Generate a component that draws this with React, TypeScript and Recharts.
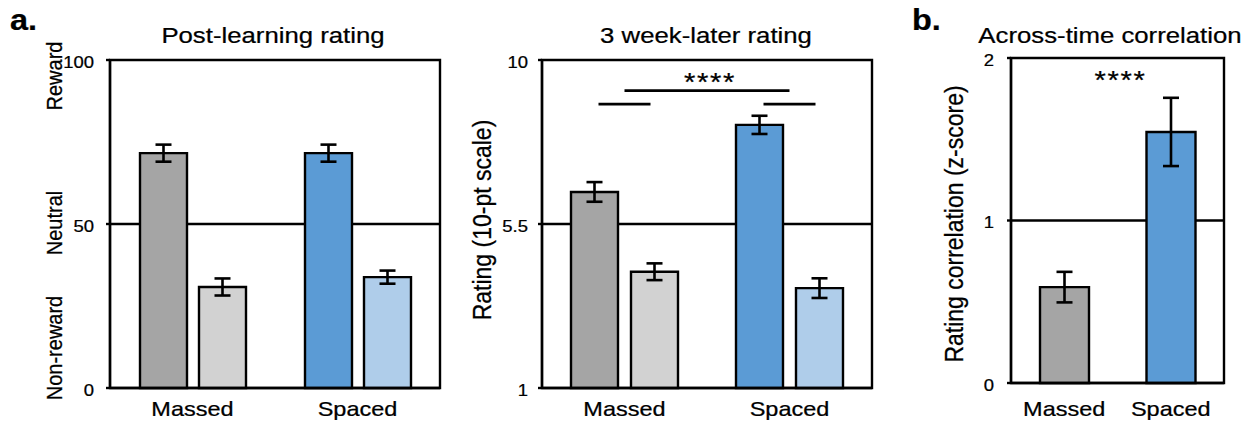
import React from 'react';
import { BarChart, Bar, XAxis, YAxis, ErrorBar, Cell, ReferenceLine, ReferenceArea } from 'recharts';

const FONT = '"Liberation Sans", Arial, Helvetica, sans-serif';
const SX = 1.12; // the source figure is stretched a bit horizontally
const LW = 2.4;

const CATEGORIES = ['Massed', 'Spaced'];

// a. post-learning rating (0-100)
const POST_REWARD = [71.6, 71.6];
const POST_REWARD_ERR = [2.6, 2.6];
const POST_NONREWARD = [30.8, 33.8];
const POST_NONREWARD_ERR = [2.6, 2.0];
const POST_TICKS = [0, 50, 100];

// a. 3 week-later rating (1-10)
const LATER_REWARD = [6.38, 8.22];
const LATER_REWARD_ERR = [0.27, 0.25];
const LATER_NONREWARD = [4.19, 3.74];
const LATER_NONREWARD_ERR = [0.23, 0.27];
const LATER_TICKS = [1, 5.5, 10];
const LATER_SIG_TOP = 9.16;
const LATER_SIG_LOW = 8.79;

// b. across-time correlation (z-score)
const CORR = [0.59, 1.545];
const CORR_ERR = [0.094, 0.21];
const CORR_TICKS = [0, 1, 2];
const CORR_SIG = 1.81;

const REWARD_COLORS = ['#a5a5a5', '#5b9bd5'];
const NONREWARD_COLORS = ['#d2d2d2', '#afcdea'];

const postData = CATEGORIES.map((name, i) => ({
  name,
  reward: POST_REWARD[i],
  rewardErr: POST_REWARD_ERR[i],
  nonReward: POST_NONREWARD[i],
  nonRewardErr: POST_NONREWARD_ERR[i],
}));

const laterData = CATEGORIES.map((name, i) => ({
  name,
  reward: LATER_REWARD[i],
  rewardErr: LATER_REWARD_ERR[i],
  nonReward: LATER_NONREWARD[i],
  nonRewardErr: LATER_NONREWARD_ERR[i],
}));

const corrData = CATEGORIES.map((name, i) => ({ name, value: CORR[i], err: CORR_ERR[i] }));

const SText = ({ x, y, size, anchor = 'middle', weight = 'normal', rotate = 0, spacing = 0, children }: any) => (
  <g transform={`translate(${x},${y}) scale(${SX},1)${rotate ? ` rotate(${rotate})` : ''}`}>
    <text x={0} y={0} textAnchor={anchor} fontSize={size} fontWeight={weight} fontFamily={FONT} fill="#000" stroke="#000" strokeWidth={0.25} letterSpacing={spacing}>
      {children}
    </text>
  </g>
);

const yTick = (dy: number) => (p: any) => (
  <SText x={p.x} y={p.y + dy} size={16.5} anchor="end">{p.payload.value}</SText>
);

const xTick = (dy: number) => (p: any) => (
  <SText x={p.x} y={p.y + dy} size={21}>{p.payload.value}</SText>
);

const Stars = ({ viewBox }: any) => {
  if (!viewBox) return null;
  return (
    <SText x={viewBox.x + viewBox.width / 2 + 3} y={viewBox.y} size={26} spacing={1.5}>****</SText>
  );
};

// short bar-pair line, centred on the category
const ShortLine = (p: any) => (
  <line x1={p.x1 - 26} x2={p.x1 + 26} y1={p.y1} y2={p.y1} stroke="#000" strokeWidth={2.8} />
);

const axisLine = { stroke: '#000', strokeWidth: LW };
const frameProps = { fill: 'none', stroke: '#000', strokeWidth: LW, fillOpacity: 0 };

const cells = (colors: string[]) =>
  CATEGORIES.map((c, i) => <Cell key={c} fill={colors[i]} stroke="#000" strokeWidth={LW} />);

const App = () => {
  return (
    <div style={{ position: 'absolute', left: 0, top: 0, width: 1251, height: 423, background: '#fff' }}>
      {/* Post-learning rating */}
      <div style={{ position: 'absolute', left: 0, top: 0 }}>
        <BarChart width={460} height={423} data={postData} margin={{ top: 60, right: 20, bottom: 0, left: 0 }} barSize={47} barGap={12}>
          <XAxis dataKey="name" height={35} axisLine={axisLine} tickLine={false} tickSize={0} tickMargin={0} tick={xTick(28)} />
          <YAxis domain={[0, 100]} ticks={POST_TICKS} width={110} axisLine={axisLine} tickLine={axisLine} tickSize={4} tickMargin={12} tick={yTick(7.5)} />
          <ReferenceLine y={50} stroke="#000" strokeWidth={LW} zIndex={0} />
          <Bar dataKey="reward" stroke="#000" strokeWidth={LW} isAnimationActive={false}>
            {cells(REWARD_COLORS)}
            <ErrorBar dataKey="rewardErr" width={8} stroke="#000" strokeWidth={2.6} />
          </Bar>
          <Bar dataKey="nonReward" stroke="#000" strokeWidth={LW} isAnimationActive={false}>
            {cells(NONREWARD_COLORS)}
            <ErrorBar dataKey="nonRewardErr" width={8} stroke="#000" strokeWidth={2.6} />
          </Bar>
          <ReferenceArea y1={0} y2={100} {...frameProps} />
        </BarChart>
      </div>

      {/* 3 week-later rating */}
      <div style={{ position: 'absolute', left: 460, top: 0 }}>
        <BarChart width={440} height={423} data={laterData} margin={{ top: 60, right: 28, bottom: 0, left: 0 }} barSize={47} barGap={13}>
          <XAxis dataKey="name" height={35} axisLine={axisLine} tickLine={false} tickSize={0} tickMargin={0} tick={xTick(27.5)} />
          <YAxis domain={[1, 10]} ticks={LATER_TICKS} width={82} axisLine={axisLine} tickLine={axisLine} tickSize={4} tickMargin={10} tick={yTick(7.5)} />
          <ReferenceLine y={5.5} stroke="#000" strokeWidth={LW} zIndex={0} />
          <Bar dataKey="reward" stroke="#000" strokeWidth={LW} isAnimationActive={false}>
            {cells(REWARD_COLORS)}
            <ErrorBar dataKey="rewardErr" width={8} stroke="#000" strokeWidth={2.6} />
          </Bar>
          <Bar dataKey="nonReward" stroke="#000" strokeWidth={LW} isAnimationActive={false}>
            {cells(NONREWARD_COLORS)}
            <ErrorBar dataKey="nonRewardErr" width={8} stroke="#000" strokeWidth={2.6} />
          </Bar>
          <ReferenceLine
            segment={[{ x: 'Massed', y: LATER_SIG_TOP }, { x: 'Spaced', y: LATER_SIG_TOP }]}
            stroke="#000"
            strokeWidth={2.8}
            label={<Stars />}
          />
          <ReferenceLine segment={[{ x: 'Massed', y: LATER_SIG_LOW }, { x: 'Massed', y: LATER_SIG_LOW }]} shape={ShortLine} />
          <ReferenceLine segment={[{ x: 'Spaced', y: LATER_SIG_LOW }, { x: 'Spaced', y: LATER_SIG_LOW }]} shape={ShortLine} />
          <ReferenceArea y1={1} y2={10} {...frameProps} />
        </BarChart>
      </div>

      {/* Across-time correlation */}
      <div style={{ position: 'absolute', left: 900, top: 0 }}>
        <BarChart width={351} height={423} data={corrData} margin={{ top: 58, right: 27, bottom: 0, left: 0 }} barSize={49}>
          <XAxis dataKey="name" height={40} axisLine={axisLine} tickLine={false} tickSize={0} tickMargin={0} tick={xTick(33)} />
          <YAxis domain={[0, 2]} ticks={CORR_TICKS} width={111} axisLine={axisLine} tickLine={axisLine} tickSize={4} tickMargin={13} tick={yTick(7.5)} />
          <ReferenceLine y={1} stroke="#000" strokeWidth={LW} zIndex={0} />
          <Bar dataKey="value" stroke="#000" strokeWidth={LW} isAnimationActive={false}>
            {cells(REWARD_COLORS)}
            <ErrorBar dataKey="err" width={8} stroke="#000" strokeWidth={2.6} />
          </Bar>
          <ReferenceLine
            segment={[{ x: 'Massed', y: CORR_SIG }, { x: 'Spaced', y: CORR_SIG }]}
            stroke="none"
            label={<Stars />}
          />
          <ReferenceArea y1={0} y2={2} {...frameProps} />
        </BarChart>
      </div>

      {/* titles, panel letters and axis titles */}
      <svg width={1251} height={423} style={{ position: 'absolute', left: 0, top: 0, pointerEvents: 'none' }}>
        <SText x={10} y={30} size={29} weight="bold" anchor="start">a.</SText>
        <SText x={912} y={30} size={29} weight="bold" anchor="start">b.</SText>
        <SText x={273} y={43} size={23}>Post-learning rating</SText>
        <SText x={706} y={43} size={23}>3 week-later rating</SText>
        <SText x={1110} y={43} size={23}>Across-time correlation</SText>
        <SText x={61.5} y={76} size={20} rotate={-90}>Reward</SText>
        <SText x={61.5} y={223} size={20} rotate={-90}>Neutral</SText>
        <SText x={61.5} y={348} size={20} rotate={-90}>Non-reward</SText>
        <SText x={491} y={220} size={23} rotate={-90}>Rating (10-pt scale)</SText>
        <SText x={963} y={224} size={23} rotate={-90}>Rating correlation (z-score)</SText>
      </svg>
    </div>
  );
};

export default App;
